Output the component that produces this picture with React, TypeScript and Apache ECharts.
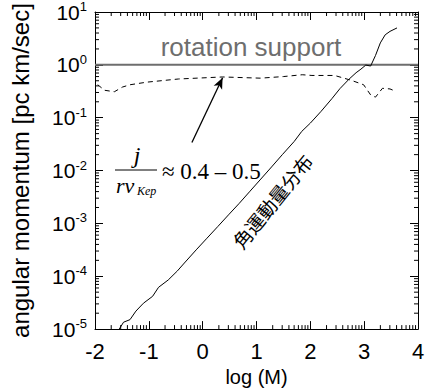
import React, { useEffect, useRef } from "react";
import * as echarts from "echarts";

const xTicks = [-2, -1, 0, 1, 2, 3, 4];
const yExponents = [-5, -4, -3, -2, -1, 0, 1];

const solidLogM = [-1.55, -1.47, -1.35, -1.24, -1.1, -0.93, -0.82, -0.64, -0.47, -0.34, -0.12, 0.08, 0.28, 0.48, 0.68, 0.88, 1.08, 1.28, 1.48, 1.7, 1.84, 2.0, 2.2, 2.4, 2.55, 2.72, 2.85, 2.94, 3.03, 3.12, 3.21, 3.3, 3.39, 3.48, 3.61];
const solidJ = [1.0e-5, 1.35e-5, 1.51e-5, 2.19e-5, 3.09e-5, 4.17e-5, 6.17e-5, 8.5e-5, 1.26e-4, 1.78e-4, 3.16e-4, 5.25e-4, 8.7e-4, 1.45e-3, 2.4e-3, 4.07e-3, 6.9e-3, 1.17e-2, 2.0e-2, 3.55e-2, 5.5e-2, 7.9e-2, 0.132, 0.229, 0.355, 0.537, 0.71, 0.83, 0.99, 0.95, 1.5, 2.6, 3.7, 4.3, 5.0];

const dashLogM = [-1.95, -1.82, -1.64, -1.49, -1.35, -1.04, -0.45, 0.37, 1.07, 1.5, 1.85, 2.03, 2.45, 2.76, 2.99, 3.12, 3.21, 3.34, 3.48, 3.54];
const dashJ = [0.42, 0.33, 0.31, 0.38, 0.42, 0.47, 0.54, 0.59, 0.56, 0.6, 0.65, 0.63, 0.63, 0.51, 0.42, 0.27, 0.245, 0.36, 0.35, 0.33];

const supportLogM = [-2, 4];
const supportJ = [1, 1];

const arrowFrom = [-0.2, 0.034];
const arrowTo = [0.37, 0.57];

const minorMult = [2, 3, 4, 5, 6, 7, 8, 9];

const X_MIN = -2, X_MAX = 4, Y_MIN = 1e-5, Y_MAX = 10;

const yMinor: number[] = [];
for (let e = -5; e < 1; e++) for (const m of minorMult) yMinor.push(m * Math.pow(10, e));
const xMinor: number[] = [];
for (let n = -2; n < 4; n++) for (const m of minorMult) xMinor.push(n + Math.log10(m));

const FONT = "Liberation Sans, Arial, sans-serif";
const SERIF = "Liberation Serif, Times New Roman, serif";

export default function App() {
  const ref = useRef<HTMLDivElement>(null);
  useEffect(() => {
    if (!ref.current) return;
    document.body.style.margin = "0";
    const chart = echarts.init(ref.current, undefined, { renderer: "svg" });
    const minorLen = 4;
    const option: any = {
      animation: false,
      backgroundColor: "#fff",
      grid: { left: 87, right: 15, top: 10, bottom: 37 },
      xAxis: [
        {
          type: "value", min: X_MIN, max: X_MAX, interval: 1,
          name: "log (M)", nameLocation: "middle", nameGap: 33,
          nameTextStyle: { fontFamily: FONT, fontSize: 20, color: "#000" },
          axisLine: { onZero: false, lineStyle: { color: "#000", width: 1 } },
          axisTick: { inside: true, length: 8, lineStyle: { color: "#000" } },
          axisLabel: { fontFamily: FONT, fontSize: 22, color: "#000", margin: 11 },
          splitLine: { show: false },
        },
        {
          type: "value", min: X_MIN, max: X_MAX, interval: 1, position: "top",
          axisLine: { onZero: false, lineStyle: { color: "#000", width: 1 } },
          axisTick: { inside: true, length: 8, lineStyle: { color: "#000" } },
          axisLabel: { show: false }, splitLine: { show: false },
        },
      ],
      yAxis: [
        {
          type: "log", logBase: 10, min: Y_MIN, max: Y_MAX,
          name: "angular momentum [pc km/sec]", nameLocation: "middle", nameGap: 63,
          nameTextStyle: { fontFamily: FONT, fontSize: 24, color: "#000" },
          axisLine: { show: true, onZero: false, lineStyle: { color: "#000", width: 1 } },
          axisTick: { inside: true, length: 8, lineStyle: { color: "#000" } },
          axisLabel: {
            margin: 8,
            formatter: (v: number) => {
              const e = Math.round(Math.log10(v));
              if (!yExponents.includes(e)) return "";
              return `{b|10}{s|${e}}`;
            },
            rich: {
              b: { fontFamily: FONT, fontSize: 21, color: "#000", lineHeight: 24, verticalAlign: "middle" },
              s: { fontFamily: FONT, fontSize: 13, color: "#000", lineHeight: 14, verticalAlign: "top" },
            },
          },
          splitLine: { show: false },
        },
        {
          type: "log", logBase: 10, min: Y_MIN, max: Y_MAX, position: "right",
          axisLine: { show: true, onZero: false, lineStyle: { color: "#000", width: 1 } },
          axisTick: { inside: true, length: 8, lineStyle: { color: "#000" } },
          axisLabel: { show: false }, splitLine: { show: false },
        },
      ],
      series: [
        {
          type: "line", name: "support", data: supportLogM.map((x, i) => [x, supportJ[i]]),
          showSymbol: false, lineStyle: { color: "#6e6e6e", width: 2 }, z: 2,
        },
        {
          type: "line", name: "dist", data: solidLogM.map((x, i) => [x, solidJ[i]]),
          showSymbol: false, lineStyle: { color: "#000", width: 1 }, z: 3,
          markLine: {
            silent: true, symbol: ["none", "arrow"], symbolSize: [7, 11],
            lineStyle: { color: "#000", width: 1.3, type: "solid" },
            label: { show: false },
            data: [[{ coord: arrowFrom }, { coord: arrowTo }]],
          },
        },
        {
          type: "line", name: "ratio", data: dashLogM.map((x, i) => [x, dashJ[i]]),
          showSymbol: false, lineStyle: { color: "#000", width: 1, type: [5, 4] }, z: 3,
        },
        {
          type: "custom", name: "yminor", data: yMinor.map((v) => [X_MIN, v]),
          renderItem: (params: any, api: any) => {
            const p = api.coord([X_MIN, api.value(1)]);
            const cs = params.coordSys;
            const xr = cs.x + cs.width;
            return {
              type: "group",
              children: [
                { type: "line", shape: { x1: cs.x, y1: p[1], x2: cs.x + minorLen, y2: p[1] }, style: { stroke: "#000", lineWidth: 1 } },
                { type: "line", shape: { x1: xr, y1: p[1], x2: xr - minorLen, y2: p[1] }, style: { stroke: "#000", lineWidth: 1 } },
              ],
            };
          },
          z: 4,
        },
        {
          type: "custom", name: "xminor", data: xMinor.map((v) => [v, 1]),
          renderItem: (params: any, api: any) => {
            const p = api.coord([api.value(0), 1]);
            const cs = params.coordSys;
            const yb = cs.y + cs.height;
            return {
              type: "group",
              children: [
                { type: "line", shape: { x1: p[0], y1: yb, x2: p[0], y2: yb - minorLen }, style: { stroke: "#000", lineWidth: 1 } },
                { type: "line", shape: { x1: p[0], y1: cs.y, x2: p[0], y2: cs.y + minorLen }, style: { stroke: "#000", lineWidth: 1 } },
              ],
            };
          },
          z: 4,
        },
      ],
      graphic: [
        { type: "text", x: 251, y: 47, style: { text: "rotation support", font: `26px ${FONT}`, fill: "#6e6e6e", textAlign: "center", textVerticalAlign: "middle" } },
        { type: "text", x: 137, y: 155, style: { text: "j", font: `italic 24px ${SERIF}`, fill: "#000", textAlign: "center", textVerticalAlign: "middle" } },
        { type: "line", shape: { x1: 115, y1: 170, x2: 157, y2: 170 }, style: { stroke: "#000", lineWidth: 1 } },
        { type: "text", x: 116, y: 185, style: { text: "rv", font: `italic 22px ${SERIF}`, fill: "#000", textAlign: "left", textVerticalAlign: "middle" } },
        { type: "text", x: 137, y: 191, style: { text: "Kep", font: `italic 12px ${SERIF}`, fill: "#000", textAlign: "left", textVerticalAlign: "middle" } },
        { type: "text", x: 162, y: 171, style: { text: "≈ 0.4 – 0.5", font: `23px ${SERIF}`, fill: "#000", textAlign: "left", textVerticalAlign: "middle" } },
        { type: "text", x: 272, y: 201, rotation: (51 * Math.PI) / 180, style: { text: "角運動量分布", font: `19px "Noto Sans CJK JP"`, fill: "#000", textAlign: "center", textVerticalAlign: "middle" } },
      ],
    };
    chart.setOption(option);
    return () => chart.dispose();
  }, []);
  return <div ref={ref} style={{ width: 433, height: 392 }} />;
}
